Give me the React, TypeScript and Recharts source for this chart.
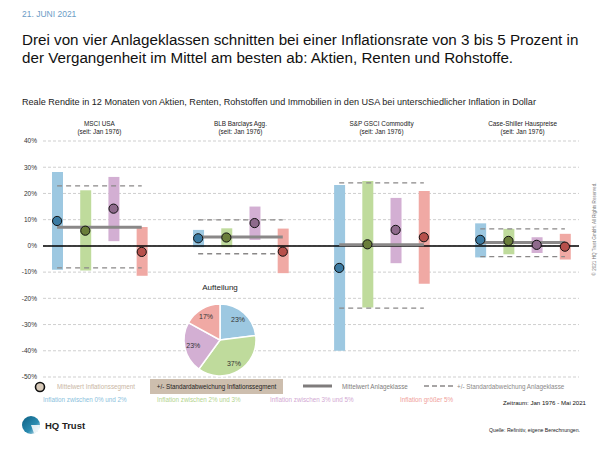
import React from "react";
import {
  ComposedChart, Bar, Line, Scatter, XAxis, YAxis, CartesianGrid, ReferenceLine, Cell,
  PieChart, Pie,
} from "recharts";

const groups = ["MSCI USA", "BLB Barclays Agg.", "S&P GSCI Commodity", "Case-Shiller Hauspreise"];
const groupSubtitle = "(seit: Jan 1976)";
const segments = [
  "Inflation zwischen 0% und 2%",
  "Inflation zwischen 2% und 3%",
  "Inflation zwischen 3% und 5%",
  "Inflation größer 5%",
];
// mean per inflation segment, per asset class
const segMean = [
  [9.5, 5.8, 14.2, -2.3],
  [2.9, 3.2, 8.7, -2.2],
  [-8.4, 0.6, 6.1, 3.3],
  [2.3, 1.9, 0.4, -0.3],
];
const segLow = [
  [-9.1, -9.4, 1.8, -11.4],
  [-0.5, -0.5, 2.3, -10.4],
  [-40.0, -23.5, -6.6, -14.4],
  [-4.4, -3.2, -2.7, -5.2],
];
const segHigh = [
  [28.2, 21.2, 26.3, 7.2],
  [6.1, 6.7, 15.0, 6.6],
  [23.2, 24.7, 18.3, 20.9],
  [8.6, 6.5, 3.3, 4.6],
];
const classMean = [7.1, 3.4, 0.4, 1.3];
const classSdHigh = [22.9, 9.9, 24.0, 6.5];
const classSdLow = [-8.4, -3.0, -23.7, -4.1];
const yTicks = [-50, -40, -30, -20, -10, 0, 10, 20, 30, 40];
const pieShares = [23, 37, 23, 17];

const barColors = ["#9dc8e1", "#bfdb9c", "#d3afd3", "#f0a9a4"];
const dotColors = ["#3a7aa2", "#6a7e3a", "#8e6a8c", "#b7504b"];
const textColors = ["#8bbfdd", "#b3d48e", "#d2a8d2", "#f0a19b"];

const FONT = "'Liberation Sans', Arial, Helvetica, sans-serif";

type Row = {
  key: string; seg: number; range: number[] | null; dot: number | null;
  mean: number | null; sdHi: number | null; sdLo: number | null;
};
const rows: Row[] = [];
groups.forEach((g, gi) => {
  segments.forEach((s, si) => {
    rows.push({
      key: `${gi}-${si}`, seg: si,
      range: [segLow[gi][si], segHigh[gi][si]],
      dot: segMean[gi][si],
      mean: classMean[gi], sdHi: classSdHigh[gi], sdLo: classSdLow[gi],
    });
  });
  if (gi < groups.length - 1) {
    rows.push({ key: `gap${gi}`, seg: -1, range: null, dot: null, mean: null, sdHi: null, sdLo: null });
  }
});
const pieData = segments.map((s, i) => ({ name: s, value: pieShares[i] }));

const DotShape = (p: any) => {
  const { cx, cy, payload } = p;
  if (!payload || payload.dot == null || cx == null || cy == null || isNaN(cx) || isNaN(cy)) return <g />;
  return <circle cx={cx} cy={cy} r={4.6} fill={dotColors[payload.seg]} stroke="#111" strokeWidth={1} />;
};

const RAD = Math.PI / 180;
const PieLabel = (p: any) => {
  const { cx, cy, midAngle, outerRadius, value } = p;
  const r = outerRadius * 0.76;
  const x = cx + r * Math.cos(-midAngle * RAD);
  const y = cy + r * Math.sin(-midAngle * RAD);
  return (
    <text x={x} y={y} textAnchor="middle" dominantBaseline="central" fontSize={7} fill="#333" fontFamily={FONT}>
      {`${value}%`}
    </text>
  );
};

const abs = (l: number, t: number, extra: React.CSSProperties = {}): React.CSSProperties => ({
  position: "absolute", left: l, top: t, whiteSpace: "nowrap", fontFamily: FONT, ...extra,
});

export default function App() {
  const plotLeft = 43;
  const band = (579 - 43) / rows.length;
  const groupCenter = (gi: number) => plotLeft + band * (gi * 5 + 2);
  return (
    <div style={{ position: "absolute", left: 0, top: 0, width: 600, height: 450, background: "#fff", fontFamily: FONT, overflow: "hidden" }}>
      <div style={abs(22, 9, { fontSize: 8.5, color: "#6b9cc6" })}>21. JUNI 2021</div>
      <div style={abs(22, 31, { fontSize: 15.2, color: "#111", lineHeight: "18px" })}>
        Drei von vier Anlageklassen schnitten bei einer Inflationsrate von 3 bis 5 Prozent in
        <br />
        der Vergangenheit im Mittel am besten ab: Aktien, Renten und Rohstoffe.
      </div>
      <div style={abs(22, 97, { fontSize: 9.1, color: "#222" })}>
        Reale Rendite in 12 Monaten von Aktien, Renten, Rohstoffen und Immobilien in den USA bei unterschiedlicher Inflation in Dollar
      </div>
      {groups.map((g, gi) => (
        <div key={g} style={{ position: "absolute", left: groupCenter(gi) - 60, width: 120, top: 120, textAlign: "center", fontSize: 6.4, lineHeight: "8px", color: "#222", fontFamily: FONT }}>
          {g}
          <br />
          {groupSubtitle}
        </div>
      ))}

      <div style={{ position: "absolute", left: 0, top: 0 }}>
        <ComposedChart width={600} height={450} data={rows} margin={{ top: 141, right: 21, bottom: 73, left: 0 }}>
          <CartesianGrid vertical={false} stroke="#cfcfcf" strokeDasharray="3 2" />
          <XAxis dataKey="key" hide />
          <YAxis
            width={43}
            domain={[-50, 40]}
            ticks={yTicks}
            interval={0}
            axisLine={false}
            tickLine={false}
            tickSize={4}
            tickMargin={2}
            tickFormatter={(v: number) => `${v}%`}
            tick={{ fontSize: 6.5, fill: "#333", fontFamily: FONT }}
          />
          <Bar dataKey="range" barSize={11} isAnimationActive={false}>
            {rows.map((r) => (
              <Cell key={r.key} fill={r.seg >= 0 ? barColors[r.seg] : "none"} />
            ))}
          </Bar>
          <ReferenceLine y={0} stroke="#000" strokeWidth={1.5} />
          <Line dataKey="mean" stroke="#8a8888" strokeWidth={3} dot={false} activeDot={false} isAnimationActive={false} connectNulls={false} />
          <Line dataKey="sdHi" stroke="#8a8888" strokeWidth={1.3} strokeDasharray="5 4" dot={false} activeDot={false} isAnimationActive={false} connectNulls={false} />
          <Line dataKey="sdLo" stroke="#8a8888" strokeWidth={1.3} strokeDasharray="5 4" dot={false} activeDot={false} isAnimationActive={false} connectNulls={false} />
          <Scatter dataKey="dot" shape={DotShape} isAnimationActive={false} />
        </ComposedChart>
      </div>

      <div style={abs(190, 283, { width: 60, textAlign: "center", fontSize: 8, color: "#222" })}>Aufteilung</div>
      <div style={{ position: "absolute", left: 170, top: 290 }}>
        <PieChart width={100} height={100} margin={{ top: 0, right: 0, bottom: 0, left: 0 }}>
          <Pie
            data={pieData}
            dataKey="value"
            cx={50}
            cy={50}
            outerRadius={36}
            startAngle={90}
            endAngle={-270}
            stroke="#fff"
            strokeWidth={1.5}
            label={PieLabel}
            labelLine={false}
            isAnimationActive={false}
          >
            {pieData.map((d, i) => (
              <Cell key={d.name} fill={barColors[i]} />
            ))}
          </Pie>
        </PieChart>
      </div>

      {/* legend row 1 */}
      <svg style={{ position: "absolute", left: 0, top: 376 }} width={600} height={22}>
        <circle cx={40} cy={11} r={4.5} fill="#d8cab9" stroke="#111" strokeWidth={1.6} />
        <rect x={150} y={3} width={133} height={15} fill="#cdbeae" />
        <line x1={303} y1={10} x2={332} y2={10} stroke="#7f7c7c" strokeWidth={3} />
        <line x1={424} y1={10} x2={454} y2={10} stroke="#8a8888" strokeWidth={1.5} strokeDasharray="5 3" />
      </svg>
      <div style={abs(57, 383, { fontSize: 6.3, color: "#c9b7a4" })}>Mittelwert Inflationssegment</div>
      <div style={abs(150, 383, { width: 133, textAlign: "center", fontSize: 6.3, color: "#222" })}>+/- Standardabweichung Inflationssegment</div>
      <div style={abs(342, 383, { fontSize: 6.3, color: "#807d7d" })}>Mittelwert Anlageklasse</div>
      <div style={abs(457, 383, { fontSize: 6.3, color: "#8a8888" })}>+/- Standardabweichung Anlageklasse</div>

      {/* legend row 2 */}
      {segments.map((s, i) => (
        <div key={s} style={abs([43, 157, 270, 400][i], 396, { fontSize: 6.3, color: textColors[i] })}>{s}</div>
      ))}
      <div style={abs(503, 399, { fontSize: 6.1, color: "#111" })}>Zeitraum: Jan 1976 - Mai 2021</div>

      {/* copyright */}
      <div style={{ position: "absolute", left: 594, top: 229, transform: "translate(-50%, -50%) rotate(-90deg)", fontSize: 4.6, color: "#777", whiteSpace: "nowrap", fontFamily: FONT }}>
        © 2021 HQ Trust GmbH. All Rights Reserved.
      </div>

      {/* logo */}
      <svg style={{ position: "absolute", left: 20, top: 414 }} width={24} height={24}>
        <defs>
          <linearGradient id="lg" x1="0" y1="0" x2="1" y2="1">
            <stop offset="0" stopColor="#0d5f82" />
            <stop offset="0.6" stopColor="#2a8bb0" />
            <stop offset="1" stopColor="#dfeef5" />
          </linearGradient>
        </defs>
        <circle cx={11} cy={11} r={9} fill="url(#lg)" />
        <path d="M11 11 L20 11 A9 9 0 0 1 14 19.5 Z" fill="#ffffff" opacity={0.85} />
      </svg>
      <div style={abs(45, 420, { fontSize: 9.5, fontWeight: "bold", color: "#222" })}>HQ Trust</div>
      <div style={abs(489, 427, { fontSize: 5.2, color: "#222" })}>Quelle: Refinitiv, eigene Berechnungen.</div>
    </div>
  );
}
